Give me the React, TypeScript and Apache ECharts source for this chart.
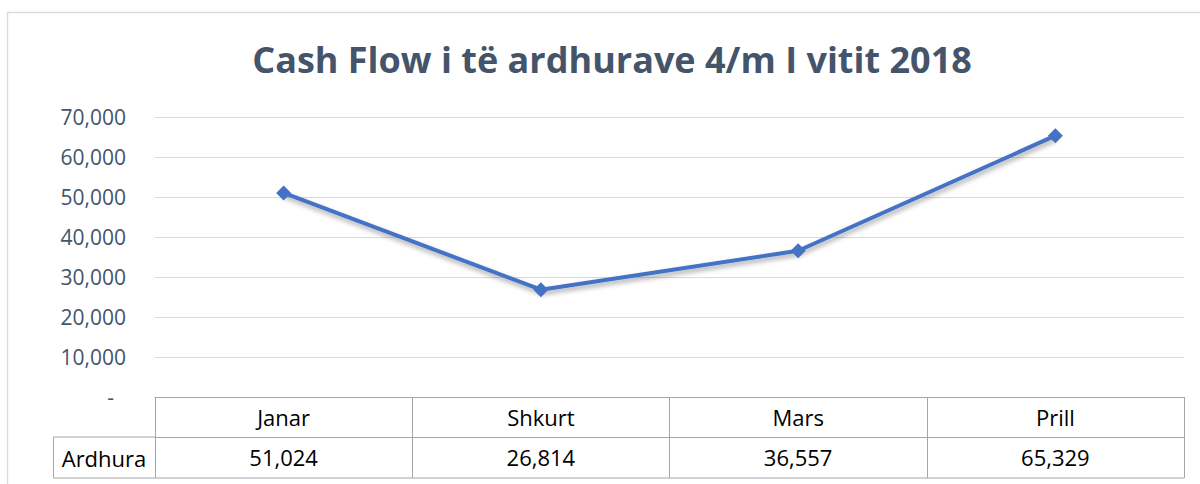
import React, { useEffect, useRef } from "react";
import * as echarts from "echarts";

const titleText = "Cash Flow i të ardhurave 4/m I vitit 2018";
const categories = ["Janar", "Shkurt", "Mars", "Prill"];
const seriesName = "Ardhura";
const values = [51024, 26814, 36557, 65329];
const yTicks = { min: 0, max: 70000, interval: 10000 };

const fmt = (v: number) => v.toLocaleString("en-US");

export default function App() {
  const ref = useRef<HTMLDivElement>(null);
  useEffect(() => {
    if (!ref.current) return;
    const chart = echarts.init(ref.current, null, { renderer: "svg" });
    const gridLeft = 155;
    const gridRight = 16;
    const gridTop = 117;
    const gridBottom = 87;
    const W = 1200;
    const H = 484;
    const tableTop = H - gridBottom;
    const rowH = 40;
    const tableLine = "#a6a6a6";
    const textFont = "Open Sans";
    chart.setOption({
      animation: false,
      backgroundColor: "#ffffff",
      title: {
        text: titleText,
        left: 607,
        textAlign: "center",
        top: 36,
        textStyle: {
          fontFamily: textFont,
          fontWeight: "bold",
          fontSize: 36,
          color: "#44546a",
        },
      },
      grid: { left: gridLeft, right: gridRight, top: gridTop, bottom: gridBottom },
      xAxis: [
        {
          type: "category",
          data: categories,
          boundaryGap: true,
          position: "bottom",
          axisLine: { show: true, lineStyle: { color: tableLine, width: 1 } },
          axisTick: {
            show: true,
            length: rowH * 2 + 1,
            lineStyle: { color: tableLine, width: 1 },
            alignWithLabel: false,
          },
          axisLabel: {
            margin: 9,
            color: "#000000",
            fontFamily: textFont,
            fontSize: 22,
          },
        },
        {
          type: "category",
          data: values.map(fmt),
          boundaryGap: true,
          position: "bottom",
          offset: rowH,
          axisLine: { show: true, lineStyle: { color: tableLine, width: 1 } },
          axisTick: { show: false },
          axisLabel: {
            margin: 9,
            color: "#000000",
            fontFamily: textFont,
            fontSize: 22,
          },
        },
      ],
      yAxis: {
        type: "value",
        min: yTicks.min,
        max: yTicks.max,
        interval: yTicks.interval,
        axisLine: { show: false },
        axisTick: { show: false },
        splitLine: { lineStyle: { color: "#d9d9d9", width: 1 } },
        axisLabel: {
          margin: 29,
          color: "#44546a",
          fontFamily: textFont,
          fontSize: 21,
          formatter: (v: number) => (v === 0 ? "{d|-}" : fmt(v)),
          rich: {
            d: {
              color: "#44546a",
              fontFamily: textFont,
              fontSize: 21,
              padding: [0, 12, 0, 0],
            },
          },
        },
      },
      series: [
        {
          name: seriesName,
          type: "line",
          data: values,
          xAxisIndex: 0,
          symbol: "diamond",
          symbolSize: 15,
          lineStyle: {
            color: "#4472c4",
            width: 4,
            shadowColor: "rgba(0,0,0,0.35)",
            shadowBlur: 5,
            shadowOffsetY: 3,
            shadowOffsetX: 1,
          },
          itemStyle: { color: "#4472c4" },
        },
      ],
      graphic: [
        {
          type: "rect",
          shape: { x: 7.5, y: 12.5, width: W + 20, height: H + 20 },
          style: { fill: "none", stroke: "#d9dde3", lineWidth: 1.5 },
          silent: true,
        },
        {
          type: "polyline",
          shape: {
            points: [
              [gridLeft, tableTop + rowH],
              [53.5, tableTop + rowH],
              [53.5, tableTop + rowH * 2 + 1],
              [W - gridRight, tableTop + rowH * 2 + 1],
            ],
          },
          style: { fill: "none", stroke: tableLine, lineWidth: 1 },
          silent: true,
        },
        {
          type: "text",
          x: 104,
          y: tableTop + rowH * 1.5 + 1,
          style: {
            text: seriesName,
            fill: "#000000",
            font: `22px "${textFont}"`,
            textAlign: "center",
            textVerticalAlign: "middle",
          },
          silent: true,
        },
      ],
    });
    return () => chart.dispose();
  }, []);
  return <div ref={ref} style={{ width: 1200, height: 484, position: "absolute", left: 0, top: 0 }} />;
}
